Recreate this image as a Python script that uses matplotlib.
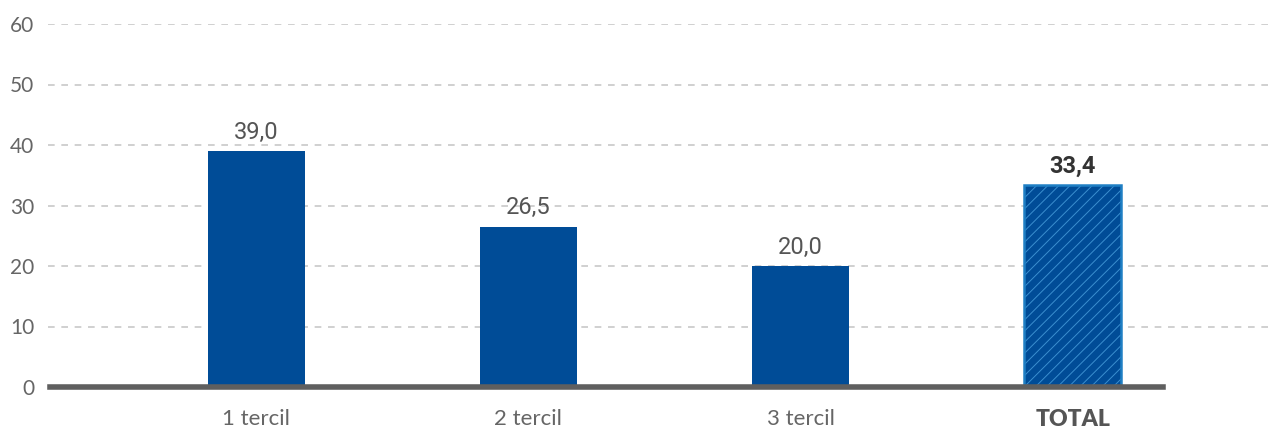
import matplotlib.pyplot as plt

categories = ['1 tercil', '2 tercil', '3 tercil', 'TOTAL']
values = [39.0, 26.5, 20.0, 33.4]
value_labels = ['39,0', '26,5', '20,0', '33,4']
yticks = [0, 10, 20, 30, 40, 50, 60]

blue = '#004c97'
grey = '#666666'

fig = plt.figure(figsize=(12.68, 4.32), dpi=100)
ax = fig.add_axes([48 / 1268, 1 - 387 / 432, 1 - 48 / 1268, (387 - 24) / 432])

x = list(range(len(categories)))
ax.bar(x[:3], values[:3], width=0.357, color=blue, zorder=3)

# total bar: dotted diagonal texture plus lighter outline
plt.rcParams['hatch.linewidth'] = 0.7
ax.bar(x[3], values[3], width=0.357, color=blue, edgecolor='#3b8fd0',
       hatch='///', linewidth=0, zorder=3)
ax.bar(x[3], values[3], width=0.357, fill=False, edgecolor='#1f7fc4',
       linewidth=1.8, zorder=4)

ax.set_xlim(-0.765, 3.717)
ax.set_ylim(0, 60)

for v in yticks[1:]:
    ax.axhline(v, color='#c8c8c8', linestyle=(0, (4, 4)), linewidth=1.2, zorder=1)
ax.axhline(0, xmin=0.002, xmax=(1163 - 48) / (1268 - 48), color='#5f5f5f',
           linewidth=4, zorder=5, clip_on=False)

for spine in ax.spines.values():
    spine.set_visible(False)

ax.set_yticks(yticks)
ax.set_yticklabels([str(t) for t in yticks], family='Lato', fontsize=15, color=grey)
ax.tick_params(axis='y', length=0, pad=10)
ax.set_xticks(x)
ax.set_xticklabels(categories, family='Lato', fontsize=16, color=grey)
ax.tick_params(axis='x', length=0, pad=16)
lbls = ax.get_xticklabels()
lbls[3].set_fontweight('heavy')
lbls[3].set_fontsize(16.5)
lbls[3].set_color('#555555')

for i, (v, s) in enumerate(zip(values, value_labels)):
    bold = i == 3
    ax.text(i, v + 1.2, s, ha='center', va='bottom',
            family=['Liberation Sans Narrow', 'Roboto'], fontsize=17,
            color='#333333' if bold else '#555555',
            fontweight='bold' if bold else 'normal')

fig.savefig('out.png', dpi=100)
